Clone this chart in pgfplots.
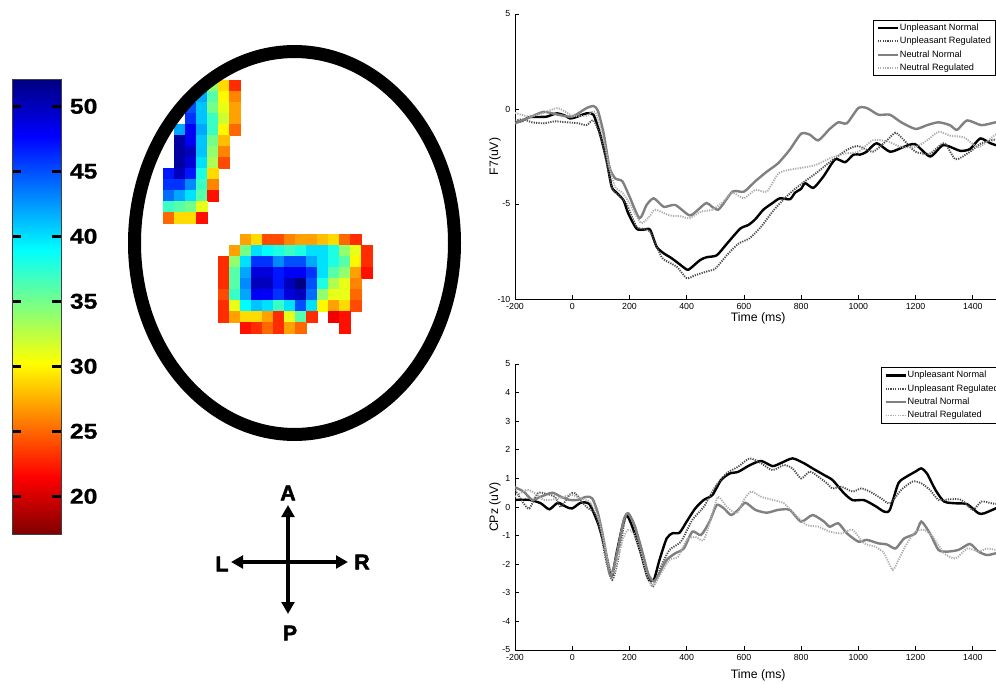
\documentclass[border=0pt]{standalone}
\usepackage{fontspec}
\setmainfont{Liberation Sans}[BoldFeatures={FakeBold=0.6}]
\newfontfamily\heavyfont{Liberation Sans}[BoldFeatures={FakeBold=2.2}]
\newfontfamily\scalefont{Liberation Sans}[FakeStretch=1.16, BoldFeatures={FakeBold=0.8}]
\usepackage{pgfplots}
\usepackage{pgfplotstable}
\pgfplotsset{compat=1.18}
\usetikzlibrary{arrows.meta}

% reversed jet: low values dark red, high values dark blue
\pgfplotsset{
  colormap={revjet}{rgb255(0cm)=(128,0,0); rgb255(1cm)=(255,0,0);
    rgb255(3cm)=(255,255,0); rgb255(5cm)=(0,255,255);
    rgb255(7cm)=(0,0,255); rgb255(8cm)=(0,0,128)},
  unN/.style={black, line width=1.8pt, smooth, tension=0.4},
  unR/.style={black!70, line width=1.4pt, dash pattern=on 0.9pt off 0.9pt, smooth, tension=0.4},
  neN/.style={black!50, line width=1.8pt, smooth, tension=0.4},
  neR/.style={black!32, line width=1.4pt, dash pattern=on 0.9pt off 0.9pt, smooth, tension=0.4},
  erp/.style={
    scale only axis, width=364.8pt,
    xmin=-200, xmax=1500,
    axis lines*=left, axis line style={line width=0.5pt, black, -},
    tick align=inside, major tick length=3pt,
    tick style={line width=0.5pt, black},
    xtick={-200,0,200,400,600,800,1000,1200,1400},
    /pgf/number format/assume math mode=true,
    /pgf/number format/1000 sep={},
    ticklabel style={font=\fontsize{6.6}{7}\selectfont},
    label style={font=\fontsize{9.2}{10}\selectfont},
    xlabel={Time (ms)},
    legend cell align=left,
    legend image code/.code={\draw[#1] (0pt,0pt) -- (15pt,0pt);},
    legend style={anchor=north west, draw=black, line width=0.5pt, fill=white,
      font=\fontsize{6.9}{8}\selectfont, inner xsep=2.5pt, inner ysep=2pt,
      row sep=2.4pt,
      nodes={inner sep=0.6pt, text height=5pt, text depth=1.4pt}},
  },
}

% activation cells: column, row, value (11 px grid)
\pgfplotstableread{
c r v
4 0 34
5 0 29
6 0 23
3 1 42
4 1 36
5 1 30
6 1 26
2 2 45
3 2 41
4 2 35
5 2 31
6 2 27
2 3 46
3 3 41
4 3 37
5 3 32
6 3 27
1 4 42
2 4 48
3 4 42
4 4 37
5 4 30
6 4 25
1 5 51
2 5 48
3 5 41
4 5 35
5 5 28
1 6 51
2 6 50
3 6 41
4 6 34
5 6 26
1 7 51
2 7 49
3 7 40
4 7 33
5 7 24
0 8 47
1 8 50
2 8 47
3 8 38
4 8 29
0 9 46
1 9 46
2 9 43
3 9 37
4 9 26
0 10 44
1 10 42
2 10 40
3 10 36
4 10 22
0 11 37
1 11 36
2 11 35
3 11 31
0 12 25
1 12 29
2 12 29
3 12 22
}\patchA

\pgfplotstableread{
c r v
2 0 27
3 0 29
4 0 24
5 0 24
6 0 26
7 0 27
8 0 27
9 0 28
10 0 29
11 0 25
12 0 23
1 1 27
2 1 35
3 1 40
4 1 39
5 1 38
6 1 37
7 1 38
8 1 40
9 1 40
10 1 38
11 1 34
12 1 31
13 1 23
0 2 23
1 2 34
2 2 40
3 2 46
4 2 46
5 2 43
6 2 45
7 2 45
8 2 42
9 2 40
10 2 38
11 2 36
12 2 30
13 2 23
0 3 23
1 3 36
2 3 42
3 3 49
4 3 49
5 3 47
6 3 48
7 3 48
8 3 46
9 3 40
10 3 36
11 3 34
12 3 27
13 3 22
0 4 23
1 4 36
2 4 43
3 4 50
4 4 50
5 4 47
6 4 50
7 4 52
8 4 45
9 4 38
10 4 33
11 4 31
12 4 26
0 5 24
1 5 37
2 5 42
3 5 48
4 5 48
5 5 46
6 5 49
7 5 50
8 5 44
9 5 34
10 5 31
11 5 31
12 5 25
0 6 23
1 6 31
2 6 39
3 6 41
4 6 40
5 6 37
6 6 40
7 6 45
8 6 40
9 6 30
10 6 27
11 6 29
12 6 24
0 7 23
1 7 27
2 7 29
3 7 29
4 7 27
5 7 23
6 7 31
7 7 36
8 7 23
10 7 21
11 7 22
2 8 22
3 8 23
4 8 25
5 8 23
6 8 27
7 8 25
11 8 22
}\patchB

\begin{document}
\begin{tikzpicture}[x=0.75pt,y=0.75pt]
\path[use as bounding box] (0,0) rectangle (996,683);
\clip (0,0) rectangle (996,683);

% ---------- colour scale ----------
\begin{axis}[at={(9pt,111.75pt)}, anchor=south west,
  scale only axis, width=36.75pt, height=341.25pt,
  xmin=0, xmax=1, ymin=17.1, ymax=52.1,
  colormap name=revjet, point meta min=17.1, point meta max=52.1,
  axis on top, xtick=\empty, ytick={20,25,30,35,40,45,50},
  yticklabel pos=right, ytick pos=both, tick align=inside,
  major tick length=7pt, tick style={line width=2.6pt, black},
  axis line style={line width=0.6pt, black!75},
  /pgf/number format/assume math mode=true,
  yticklabel style={font=\scalefont\bfseries\fontsize{16}{16}\selectfont,
    anchor=west, inner sep=0pt, xshift=6.5pt}]
\addplot[surf, shader=interp, point meta=y, mesh/cols=2] coordinates {
  (0,17.1) (1,17.1)
  (0,21.475) (1,21.475)
  (0,30.225) (1,30.225)
  (0,38.975) (1,38.975)
  (0,47.725) (1,47.725)
  (0,52.1) (1,52.1)};
\end{axis}

% ---------- scalp map cells (pixel coordinates, y downward) ----------
\begin{axis}[at={(0pt,0pt)}, anchor=south west,
  scale only axis, width=747pt, height=512.25pt,
  xmin=0, xmax=996, ymin=0, ymax=683, y dir=reverse,
  hide axis, clip=false,
  colormap name=revjet, point meta min=17.1, point meta max=52.1]
\addplot[scatter, only marks, mark=square*, mark size=4.3pt, point meta=explicit,
  scatter/use mapped color={draw=mapped color, fill=mapped color},
  mark options={line width=0.1pt}]
  table[x expr=168.5+11*\thisrow{c}, y expr=85.5+11*\thisrow{r}, meta=v] {\patchA};
\addplot[scatter, only marks, mark=square*, mark size=4.3pt, point meta=explicit,
  scatter/use mapped color={draw=mapped color, fill=mapped color},
  mark options={line width=0.1pt}]
  table[x expr=223.5+11*\thisrow{c}, y expr=239.5+11*\thisrow{r}, meta=v] {\patchB};
\end{axis}

% head outline
\draw[line width=9.75pt, black] (294.5,440) ellipse [x radius=120pt, y radius=143.6pt];

% orientation cross
\begin{scope}[line width=3pt, black, >={Triangle[length=9pt,width=9.5pt]}]
  \draw[->] (288,121) -- (288,178);
  \draw[->] (288,121) -- (288,69);
  \draw[->] (288,121) -- (231,121);
  \draw[->] (288,121) -- (348,121);
\end{scope}
\begin{scope}[every node/.style={font=\heavyfont\bfseries\fontsize{16}{16}\selectfont, inner sep=0pt}]
  \node at (288,190) {A};
  \node at (290,50) {P};
  \node at (222,119) {L};
  \node at (362,121) {R};
\end{scope}

% ---------- F7 ----------
\begin{axis}[erp, at={(386.25pt,288pt)}, anchor=south west, height=213.75pt,
  ymin=-10, ymax=5, ytick={-10,-5,0,5},
  ylabel={F7(uV)},
  ylabel style={at={(axis description cs:-0.041,0.5)}, anchor=center},
  xlabel style={at={(axis description cs:0.5,-0.0667)}, anchor=center},
  legend style={at={(0.736,0.979)}}]
\addplot[unN] coordinates {
(-200,-0.72) (-175,-0.62) (-148,-0.42) (-120,-0.42) (-89,-0.4) (-54,-0.23)
(-25,-0.35) (-8,-0.5) (15,-0.42) (50,-0.23) (74,-0.3) (97,-1.3) (120,-2.7)
(138,-4.1) (155,-4.4) (179,-4.8) (196,-5.5) (225,-6.3) (250,-6.35) (272,-6.35)
(295,-7.25) (320,-7.6) (342,-7.8) (365,-8.05) (400,-8.45) (412,-8.4) (447,-7.95)
(470,-7.8) (505,-7.7) (540,-7.1) (587,-6.3) (616,-6.1) (640,-5.8) (668,-5.3)
(700,-4.95) (726,-4.7) (761,-4.75) (779,-4.4) (800,-4.2) (814,-3.9) (843,-4.15)
(878,-3.55) (919,-2.65) (954,-2.8) (983,-2.4) (1006,-2.4) (1029,-2.25)
(1064,-1.8) (1111,-2.25) (1158,-2.0) (1198,-1.85) (1251,-2.5) (1297,-1.9)
(1356,-2.2) (1391,-2.1) (1426,-1.55) (1461,-1.8) (1500,-2.0)};
\addplot[unR] coordinates {
(-200,-0.6) (-170,-0.55) (-140,-0.7) (-100,-0.75) (-60,-0.65) (-20,-0.7)
(20,-0.75) (50,-0.85) (75,-0.6) (100,-1.5) (120,-2.8) (140,-4.2) (160,-4.5)
(190,-5.0) (225,-6.2) (250,-6.3) (272,-6.45) (300,-7.4) (318,-7.9) (365,-8.3)
(400,-8.9) (430,-8.75) (470,-8.55) (500,-8.4) (540,-7.7) (580,-7.1) (620,-6.8)
(660,-6.2) (700,-5.4) (730,-4.9) (760,-4.45) (800,-3.95) (850,-3.4) (900,-2.8)
(960,-2.15) (1000,-1.95) (1050,-2.25) (1100,-1.65) (1130,-1.25) (1160,-1.65)
(1200,-2.25) (1250,-2.35) (1300,-1.8) (1340,-2.65) (1390,-2.25) (1430,-1.8)
(1480,-1.6) (1500,-1.6)};
\addplot[neN] coordinates {
(-200,-0.75) (-150,-0.45) (-100,-0.15) (-50,-0.3) (0,-0.4) (50,0.05) (75,0.15)
(90,-0.1) (110,-1.3) (130,-3.05) (150,-3.65) (175,-3.8) (200,-4.6) (235,-5.75)
(260,-5.05) (285,-4.7) (320,-5.15) (360,-5.05) (410,-5.6) (440,-5.3) (470,-4.95)
(510,-5.3) (560,-4.35) (600,-4.35) (640,-3.8) (680,-3.3) (720,-2.85) (760,-2.15)
(800,-1.3) (830,-1.35) (860,-1.65) (900,-1.05) (930,-0.7) (960,-0.75) (1000,0.05)
(1030,0.05) (1070,-0.3) (1110,-0.3) (1150,-0.7) (1200,-1.05) (1240,-0.85)
(1280,-0.7) (1320,-0.85) (1345,-1.1) (1380,-0.6) (1430,-0.85) (1480,-0.7)
(1500,-0.7)};
\addplot[neR] coordinates {
(-200,-0.2) (-150,-0.4) (-100,-0.2) (-50,0.05) (0,-0.35) (50,-0.35) (80,-0.15)
(110,-1.65) (130,-3.05) (150,-4.1) (175,-4.4) (200,-4.95) (240,-6.0) (270,-5.65)
(290,-5.3) (340,-5.6) (380,-5.65) (410,-5.75) (450,-5.4) (490,-5.3) (530,-4.85)
(560,-4.4) (600,-4.7) (640,-4.25) (680,-4.35) (720,-3.4) (760,-3.2) (800,-3.1)
(850,-2.95) (900,-2.6) (950,-2.35) (1000,-2.25) (1050,-1.65) (1100,-1.7)
(1150,-2.0) (1200,-2.0) (1240,-1.65) (1280,-1.2) (1320,-1.4) (1370,-1.5)
(1420,-2.0) (1480,-1.35) (1500,-1.35)};
\legend{Unpleasant Normal, Unpleasant Regulated, Neutral Normal, Neutral Regulated}
\end{axis}

% ---------- CPz ----------
\begin{axis}[erp, at={(386.25pt,24.75pt)}, anchor=south west, height=214.5pt,
  ymin=-5, ymax=5, ytick={-5,-4,-3,-2,-1,0,1,2,3,4,5},
  ylabel={CPz (uV)},
  ylabel style={at={(axis description cs:-0.041,0.5)}, anchor=center},
  xlabel style={at={(axis description cs:0.5,-0.0874)}, anchor=center},
  legend style={at={(0.752,0.988)}}]
\addplot[unN] coordinates {
(-200,0.25) (-150,0.25) (-110,0.13) (-80,-0.08) (-50,0.15) (-20,0.0) (0,-0.05)
(30,0.15) (60,0.1) (90,-0.57) (110,-1.27) (130,-2.2) (140,-2.38) (155,-1.62)
(175,-0.69) (190,-0.28) (210,-0.69) (240,-1.62) (265,-2.5) (285,-2.55)
(305,-1.85) (330,-1.1) (350,-0.92) (375,-0.9) (400,-0.51) (430,-0.05) (460,0.25)
(490,0.42) (520,0.94) (550,1.17) (580,1.23) (620,1.46) (660,1.61) (700,1.43)
(730,1.54) (770,1.7) (810,1.53) (840,1.35) (880,1.12) (910,0.94) (950,0.48)
(980,0.24) (1020,0.24) (1060,0.03) (1090,-0.16) (1110,-0.1) (1140,0.83)
(1170,1.07) (1200,1.24) (1220,1.35) (1240,1.17) (1270,0.59) (1300,0.19)
(1340,0.13) (1380,0.1) (1420,-0.22) (1440,-0.22) (1480,-0.05) (1500,0.0)};
\addplot[unR] coordinates {
(-200,0.6) (-170,0.13) (-150,-0.05) (-120,0.48) (-90,0.46) (-60,0.35) (-40,0.0)
(-10,0.42) (10,0.48) (50,0.0) (80,-0.22) (100,-0.92) (120,-1.97) (140,-2.55)
(160,-1.85) (190,-0.22) (220,-0.69) (250,-1.74) (280,-2.79) (310,-2.09)
(340,-1.5) (380,-1.21) (420,-0.45) (460,0.01) (500,0.71) (540,1.18) (580,1.41)
(620,1.7) (660,1.53) (700,1.29) (740,1.47) (770,1.35) (800,1.0) (830,1.24)
(860,1.06) (890,0.83) (910,0.65) (940,0.71) (980,0.54) (1010,0.65) (1040,0.54)
(1080,0.3) (1110,0.13) (1150,0.6) (1190,0.89) (1220,0.83) (1250,0.6) (1280,0.25)
(1320,0.27) (1360,0.25) (1400,-0.1) (1430,0.19) (1470,0.12) (1500,0.1)};
\addplot[neN] coordinates {
(-200,0.69) (-170,0.54) (-140,0.25) (-110,0.36) (-70,0.5) (-40,0.36) (-10,0.25)
(20,0.25) (50,0.36) (70,0.3) (90,-0.22) (110,-1.15) (130,-2.32) (140,-2.32)
(160,-1.45) (180,-0.45) (195,-0.22) (215,-0.57) (240,-1.39) (265,-2.32)
(285,-2.6) (305,-2.32) (330,-1.85) (360,-1.62) (390,-1.45) (420,-0.86)
(450,-0.98) (480,-0.51) (505,0.07) (530,-0.05) (555,-0.28) (580,-0.1) (605,0.15)
(640,-0.1) (680,-0.2) (720,-0.1) (760,-0.1) (800,-0.51) (840,-0.28) (880,-0.51)
(900,-0.69) (930,-0.57) (960,-0.92) (1000,-1.21) (1030,-1.15) (1070,-1.27)
(1100,-1.31) (1130,-1.45) (1160,-1.1) (1200,-0.92) (1220,-0.51) (1250,-0.92)
(1280,-1.5) (1310,-1.56) (1350,-1.5) (1390,-1.29) (1420,-1.56) (1450,-1.68)
(1480,-1.62) (1500,-1.6)};
\addplot[neR] coordinates {
(-200,0.36) (-160,0.6) (-130,0.48) (-100,0.25) (-60,0.27) (-30,0.36) (0,0.42)
(30,0.3) (60,0.19) (90,-0.34) (110,-1.15) (130,-2.09) (145,-2.32) (160,-1.74)
(180,-1.04) (195,-0.8) (215,-0.92) (240,-1.62) (265,-2.55) (285,-2.73)
(310,-2.32) (340,-1.85) (370,-1.74) (400,-1.15) (430,-1.04) (460,-1.15)
(490,-0.22) (510,0.36) (540,0.01) (575,-0.22) (600,0.25) (625,0.54) (660,0.36)
(700,0.25) (740,0.13) (780,-0.28) (820,-0.63) (860,-0.69) (900,-0.86)
(940,-0.92) (980,-0.8) (1020,-1.27) (1060,-1.39) (1090,-1.62) (1120,-2.2)
(1140,-1.85) (1170,-1.27) (1200,-0.86) (1230,-0.8) (1260,-1.04) (1300,-1.62)
(1340,-1.8) (1380,-1.45) (1420,-1.56) (1450,-1.45) (1480,-1.5) (1500,-1.5)};
\legend{Unpleasant Normal, Unpleasant Regulated, Neutral Normal, Neutral Regulated}
\end{axis}
\end{tikzpicture}
\end{document}
